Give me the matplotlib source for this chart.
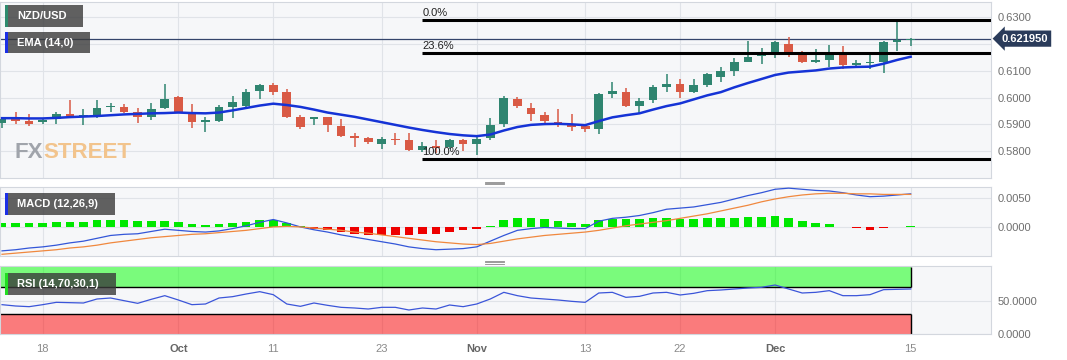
import matplotlib
matplotlib.use("Agg")
import matplotlib.pyplot as plt
import matplotlib.transforms as mtransforms
from matplotlib.patches import Rectangle
from matplotlib.lines import Line2D
import numpy as np

plt.rcParams['font.family'] = ['Liberation Sans', 'DejaVu Sans']

# NZD/USD daily candles, 13 Sep .. 15 Dec
opens = [0.5905, 0.5919, 0.5913, 0.5907, 0.5919, 0.5937, 0.5928, 0.5930, 0.5965, 0.5966,
         0.5945, 0.5928, 0.5962, 0.6003, 0.5945, 0.5910, 0.5913, 0.5966, 0.5968, 0.6024,
         0.6046, 0.6019, 0.5926, 0.5920, 0.5926, 0.5895, 0.5854, 0.5848, 0.5826, 0.5844,
         0.5841, 0.5804, 0.5819, 0.5814, 0.5841, 0.5826, 0.5848, 0.5900, 0.5993, 0.5962,
         0.5935, 0.5910, 0.5895, 0.5895, 0.5882, 0.6013, 0.6022, 0.5968, 0.5990, 0.6040,
         0.6050, 0.6021, 0.6046, 0.6075, 0.6100, 0.6133, 0.6155, 0.6161, 0.6198, 0.6169,
         0.6131, 0.6140, 0.6168, 0.6121, 0.6127, 0.6133, 0.6208, 0.6214]
highs = [0.5922, 0.5946, 0.5938, 0.5921, 0.5947, 0.5990, 0.5956, 0.5990, 0.5978, 0.5975,
         0.5960, 0.5978, 0.6049, 0.6004, 0.5975, 0.5926, 0.5972, 0.6005, 0.6030, 0.6050,
         0.6055, 0.6031, 0.5935, 0.5928, 0.5928, 0.5920, 0.5869, 0.5851, 0.5851, 0.5869,
         0.5869, 0.5835, 0.5841, 0.5845, 0.5847, 0.5851, 0.5922, 0.6005, 0.6003, 0.5978,
         0.5947, 0.5956, 0.5937, 0.5897, 0.6018, 0.6056, 0.6036, 0.5997, 0.6046, 0.6086,
         0.6068, 0.6068, 0.6093, 0.6112, 0.6148, 0.6210, 0.6183, 0.6211, 0.6224, 0.6172,
         0.6180, 0.6196, 0.6193, 0.6140, 0.6171, 0.6212, 0.6289, 0.6220]
lows = [0.5886, 0.5901, 0.5894, 0.5903, 0.5903, 0.5926, 0.5897, 0.5922, 0.5947, 0.5941,
        0.5904, 0.5916, 0.5956, 0.5946, 0.5887, 0.5870, 0.5907, 0.5922, 0.5963, 0.5993,
        0.6009, 0.5922, 0.5882, 0.5897, 0.5870, 0.5851, 0.5814, 0.5827, 0.5807, 0.5822,
        0.5801, 0.5797, 0.5792, 0.5807, 0.5801, 0.5785, 0.5841, 0.5891, 0.5960, 0.5913,
        0.5906, 0.5891, 0.5876, 0.5872, 0.5864, 0.5997, 0.5963, 0.5941, 0.5978, 0.6021,
        0.5997, 0.6015, 0.6040, 0.6059, 0.6080, 0.6131, 0.6125, 0.6146, 0.6150, 0.6128,
        0.6127, 0.6112, 0.6105, 0.6109, 0.6105, 0.6090, 0.6174, 0.6193]
closes = [0.5920, 0.5914, 0.5901, 0.5918, 0.5937, 0.5930, 0.5930, 0.5960, 0.5966, 0.5947,
          0.5926, 0.5959, 0.5993, 0.5947, 0.5910, 0.5912, 0.5966, 0.5984, 0.6021, 0.6046,
          0.6021, 0.5926, 0.5889, 0.5926, 0.5897, 0.5856, 0.5850, 0.5833, 0.5845, 0.5841,
          0.5804, 0.5819, 0.5810, 0.5841, 0.5826, 0.5845, 0.5897, 0.6000, 0.5967, 0.5937,
          0.5912, 0.5902, 0.5891, 0.5882, 0.6012, 0.6024, 0.5968, 0.5988, 0.6040, 0.6050,
          0.6021, 0.6046, 0.6086, 0.6100, 0.6131, 0.6152, 0.6160, 0.6206, 0.6169, 0.6131,
          0.6140, 0.6168, 0.6121, 0.6127, 0.6133, 0.6206, 0.6214, 0.62195]

ema14 = [0.5923, 0.5923, 0.5922, 0.5922, 0.5924, 0.5927, 0.5929, 0.5931, 0.5934, 0.5937,
         0.5939, 0.5941, 0.5942, 0.5944, 0.5942, 0.5941, 0.5944, 0.5952, 0.5961, 0.5970,
         0.5977, 0.5972, 0.5965, 0.5955, 0.5944, 0.5936, 0.5928, 0.5918, 0.5908, 0.5898,
         0.5888, 0.5879, 0.5871, 0.5864, 0.5859, 0.5856, 0.5862, 0.5877, 0.5890, 0.5898,
         0.5901, 0.5902, 0.5900, 0.5897, 0.5912, 0.5926, 0.5934, 0.5941, 0.5955, 0.5968,
         0.5978, 0.5993, 0.6008, 0.6020, 0.6038, 0.6054, 0.6069, 0.6084, 0.6093, 0.6097,
         0.6101, 0.6108, 0.6112, 0.6114, 0.6115, 0.6126, 0.6140, 0.6152]

macd_line = [-0.0042, -0.0040, -0.0037, -0.0035, -0.0032, -0.0028, -0.0025, -0.0020, -0.0015, -0.0013,
             -0.0012, -0.0008, -0.0004, -0.0006, -0.0008, -0.0009, -0.0007, -0.0003, 0.0002, 0.0008,
             0.0013, 0.0007, 0.0000, -0.0005, -0.0009, -0.0014, -0.0018, -0.0022, -0.0026, -0.0030,
             -0.0035, -0.0038, -0.0040, -0.0039, -0.0038, -0.0035, -0.0025, -0.0015, -0.0006, -0.0003,
             -0.0001, -0.0002, -0.0003, -0.0003, 0.0010, 0.0015, 0.0017, 0.0020, 0.0025, 0.0031,
             0.0033, 0.0035, 0.0039, 0.0043, 0.0049, 0.0055, 0.0060, 0.0066, 0.0068, 0.0066,
             0.0064, 0.0063, 0.0060, 0.0056, 0.0053, 0.0054, 0.0056, 0.0058]
macd_signal = [-0.0048, -0.0046, -0.0044, -0.0042, -0.0040, -0.0037, -0.0035, -0.0032, -0.0028, -0.0025,
               -0.0022, -0.0019, -0.0017, -0.0015, -0.0013, -0.0012, -0.0010, -0.0008, -0.0006, -0.0003,
               0.0000, 0.0001, 0.0000, -0.0002, -0.0004, -0.0006, -0.0009, -0.0011, -0.0014, -0.0017,
               -0.0020, -0.0023, -0.0026, -0.0028, -0.0030, -0.0031, -0.0029, -0.0025, -0.0021, -0.0018,
               -0.0015, -0.0013, -0.0011, -0.0009, -0.0006, -0.0002, 0.0002, 0.0005, 0.0008, 0.0011,
               0.0015, 0.0019, 0.0023, 0.0028, 0.0033, 0.0038, 0.0044, 0.0049, 0.0053, 0.0056,
               0.0058, 0.0059, 0.0059, 0.0058, 0.0058, 0.0057, 0.0057, 0.0057]
macd_hist = [0.0006, 0.00065, 0.0007, 0.0007, 0.0009, 0.0009, 0.00095, 0.0012, 0.0013, 0.0013,
             0.0010, 0.0010, 0.0011, 0.00095, 0.0005, 0.00035, 0.0005, 0.0007, 0.00095, 0.0013,
             0.0013, 0.0007, 0.0001, -0.0003, -0.0006, -0.0009, -0.0012, -0.0014, -0.0014, -0.0014,
             -0.0014, -0.0013, -0.0012, -0.0009, -0.0006, -0.0003, 0.0001, 0.0012, 0.0015, 0.0015,
             0.00134, 0.00105, 0.00076, 0.00058, 0.00116, 0.00145, 0.00134, 0.00134, 0.00151, 0.00163,
             0.00145, 0.00134, 0.00151, 0.00151, 0.00163, 0.0018, 0.00174, 0.00192, 0.00151, 0.00105,
             0.00064, 0.00052, 0.00005, -0.0002, -0.0005, -0.00015, 0.00003, 0.00008]

rsi14 = [44, 42, 41, 44, 47.5, 47, 46.5, 52.5, 54, 50,
         46, 52, 57.5, 51, 44, 45, 54, 56, 60, 63.5,
         59, 45, 41.5, 46.5, 43, 40, 39, 37.5, 40, 40,
         36, 39, 37.5, 43.5, 41, 45, 52.5, 62.5, 57.5, 54,
         52.5, 51, 49, 47.5, 61.5, 62.5, 55, 56.5, 61.5, 62.5,
         58.5, 61, 65, 66, 67.5, 69, 70, 73.5, 67.5, 61.5,
         62.5, 65, 57.5, 57.5, 59, 66.5, 67, 67.5]

tick_pos = [3, 13, 20, 28, 35, 43, 50, 57, 67]
tick_labels = ['18', 'Oct', '11', '23', 'Nov', '13', '22', 'Dec', '15']

last_price = 0.62195
fib_high = 0.6289
fib_low = 0.5772
fib_start = 31
fib_ratios = [0.0, 0.236, 1.0]

GREEN = '#2f8570'
RED = '#d95a45'
W, H = 1067, 360
XMIN, XMAX = -0.15, 72.9

fig = plt.figure(figsize=(W / 100, H / 100), dpi=100)


def panel(top, bottom):
    # axes placed by pixel rows of the reference
    return fig.add_axes([0, 1 - bottom / H, 990.7 / W, (bottom - top) / H])


ax = panel(2, 178)
ax_macd = panel(187, 256)
ax_rsi = panel(266, 334)

for a in (ax, ax_macd, ax_rsi):
    a.set_facecolor('#f6f7f9')
    a.set_xlim(XMIN, XMAX)
    a.set_xticks(tick_pos)
    a.grid(True, color='#e0e3e8', lw=0.8)
    a.set_axisbelow(True)
    a.yaxis.tick_right()
    a.tick_params(length=0, labelsize=8, labelcolor='#6f6f6f', pad=5)
    for s in a.spines.values():
        s.set_color('#d3d7de')
ax.tick_params(labelbottom=False)
ax_macd.tick_params(labelbottom=False)

# --- price panel ---
x = np.arange(len(closes))
o = np.array(opens)
c = np.array(closes)
col = np.where(c >= o, GREEN, RED)
ax.vlines(x, lows, highs, colors=col, lw=1.1, zorder=3)
body = np.maximum(np.abs(c - o), 0.0005)
ax.bar(x, body, bottom=np.minimum(o, c), width=0.64, color=col, zorder=4)
ax.plot(x, ema14, color='#1533d6', lw=1.8, zorder=5)
ax.axhline(last_price, color='#34446b', lw=0.9, zorder=2)

for r in fib_ratios:
    lvl = fib_high - r * (fib_high - fib_low)
    ax.hlines(lvl, fib_start, XMAX, color='black', lw=2.2, zorder=6)
    ax.annotate(f'{r * 100:.1f}%', (fib_start, lvl), xytext=(0, 1.5), textcoords='offset points',
                fontsize=8, color='#222222', va='bottom', ha='left', zorder=7)

ax.set_ylim(0.5700, 0.6356)
pticks = [0.58, 0.59, 0.60, 0.61, 0.62, 0.63]
ax.set_yticks(pticks)
# the 0.6200 label sits under the price tag, so leave it blank
ax.set_yticklabels(['' if v == 0.62 else f'{v:.4f}' for v in pticks])

trans = mtransforms.blended_transform_factory(ax.transAxes, ax.transData)
ax.text(1.011, last_price, f'{last_price:.6f}', transform=trans, ha='left', va='center',
        fontsize=8, color='white', weight='bold', zorder=10, clip_on=False,
        bbox=dict(boxstyle='larrow,pad=0.28', fc='#2a3b5a', ec='none'))

# watermark
fx = ax.text(15 / 990.7, 0.115, 'FX', transform=ax.transAxes, fontsize=16, weight='bold',
             family=['Liberation Sans Narrow', 'Liberation Sans'], color='#a0a4ab', zorder=1)
ax.annotate('STREET', xy=(1, 0), xycoords=fx, ha='left', va='bottom', fontsize=16, weight='bold',
            family=['Liberation Sans Narrow', 'Liberation Sans'], color='#f2c48d', zorder=1)

# --- MACD panel ---
hist = np.array(macd_hist)
ax_macd.bar(x, hist, width=0.64, color=np.where(hist >= 0, '#00e800', '#ee0000'), zorder=2)
ax_macd.plot(x, macd_line, color='#3356d8', lw=0.9, zorder=3)
ax_macd.plot(x, macd_signal, color='#f0883e', lw=0.9, zorder=3)
ax_macd.set_ylim(-0.0051, 0.0070)
ax_macd.set_yticks([0.0, 0.005])
ax_macd.set_yticklabels(['0.0000', '0.0050'])

# --- RSI panel ---
last = x[-1]
ax_rsi.fill_between([XMIN, last], 70, 100, color='#00ff00', alpha=0.5, lw=0, zorder=1)
ax_rsi.fill_between([XMIN, last], 0, 30, color='#ff0000', alpha=0.5, lw=0, zorder=1)
ax_rsi.hlines([70, 30], XMIN, last, color='black', lw=1, zorder=2)
ax_rsi.vlines(last, 70, 100, color='black', lw=1, zorder=2)
ax_rsi.vlines(last, 0, 30, color='black', lw=1, zorder=2)
ax_rsi.plot(x, rsi14, color='#3b55d9', lw=0.9, zorder=3)
ax_rsi.set_ylim(0, 102)
ax_rsi.set_yticks([0, 50])
ax_rsi.set_yticklabels(['0.0000', '50.0000'])
ax_rsi.set_xticklabels(tick_labels)
ax_rsi.tick_params(axis='x', pad=7, labelcolor='#8a8a8a')
for t in ax_rsi.get_xticklabels():
    if t.get_text() in ('Oct', 'Nov', 'Dec'):
        t.set_fontweight('bold')
        t.set_color('#666666')


# indicator name boxes, pixel positions from the reference
def name_box(x0, y0, w, h, text, accent):
    fig.add_artist(Rectangle((x0 / W, 1 - (y0 + h) / H), w / W, h / H, transform=fig.transFigure,
                             fc='#3a3a3a', alpha=0.8, ec='none', zorder=8))
    fig.add_artist(Rectangle((x0 / W, 1 - (y0 + h) / H), 3 / W, h / H, transform=fig.transFigure,
                             fc=accent, ec='none', zorder=9))
    fig.text((x0 + 12) / W, 1 - (y0 + h / 2) / H, text, color='white', weight='bold',
             fontsize=8, va='center', ha='left', zorder=10)


name_box(5, 5, 78, 22, 'NZD/USD', '#2e8b6e')
name_box(5, 32, 85, 21, 'EMA (14,0)', '#1b2fe6')
name_box(5, 193, 110, 22, 'MACD (12,26,9)', '#1b2fe6')
name_box(5, 273, 111, 22, 'RSI (14,70,30,1)', '#22dd22')

# little drag handles between the panels
for yy in (183, 262):
    for d in (-1.5, 0, 1.5):
        fig.add_artist(Line2D([485 / W, 504 / W], [1 - (yy + d) / H] * 2, color='#8a8a8a', lw=0.6))

plt.savefig('out.png', dpi=100)
plt.close()
